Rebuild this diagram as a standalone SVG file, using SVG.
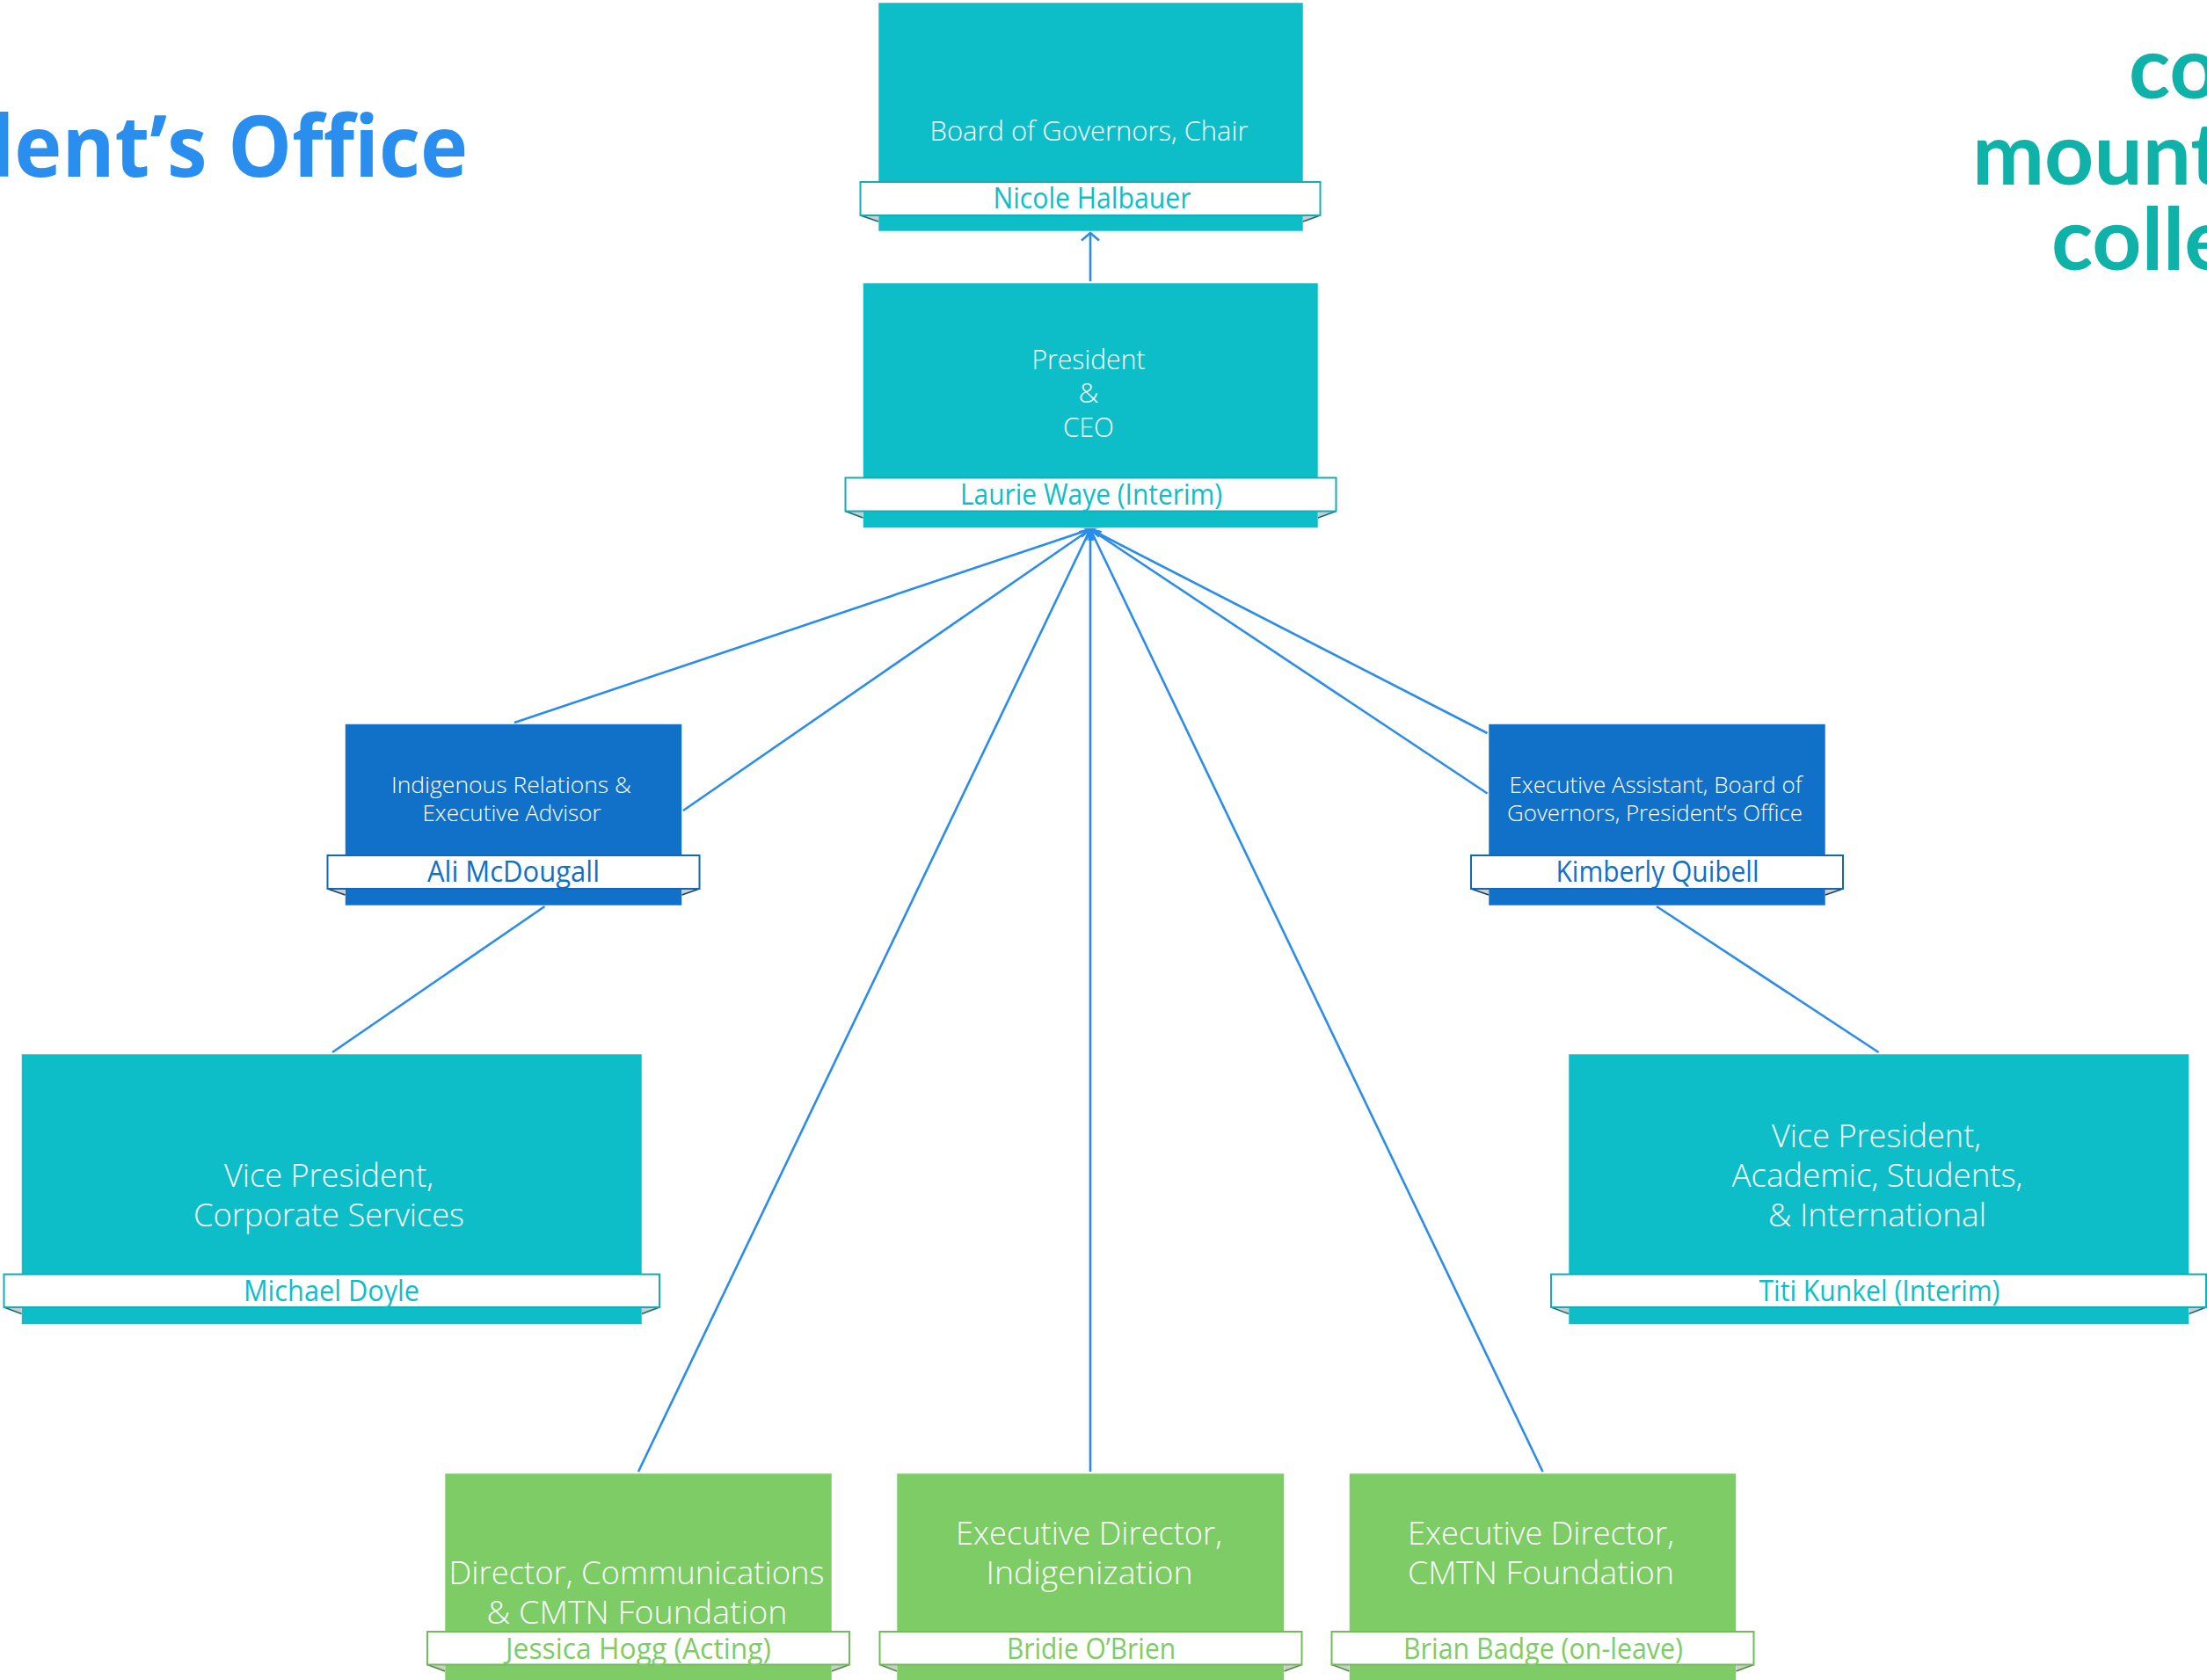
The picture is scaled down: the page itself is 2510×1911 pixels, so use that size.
<svg xmlns="http://www.w3.org/2000/svg" width="2510" height="1911" viewBox="0 0 2510 1911">
<style>
text{font-family:"Open Sans","Noto Sans","Liberation Sans",sans-serif;text-anchor:middle;font-weight:300}
.box{stroke:#fff;stroke-opacity:.55;stroke-width:1}
.rib{fill:#fff;stroke-width:2}
.fg{fill:#ccc;stroke:none}
.fl{fill:none;stroke-width:1.5}
.t{fill:#fff;font-size:32px}
.ts{fill:#fff;font-size:25.6px}
.tl{fill:#fff;font-size:36px}
.n{font-size:32px;font-weight:400}
.teal .box{fill:#0DBEC9}.teal .rib{stroke:#13AEB8}.teal .n{fill:#0DBEC9}.teal .fl{stroke:#0A6F76}
.blue .box{fill:#1170C8}.blue .rib{stroke:#1368B6}.blue .n{fill:#1170C8}.blue .fl{stroke:#0B3F70}
.green .box{fill:#7DCC66}.green .rib{stroke:#72BC5C}.green .n{fill:#7DCC66}.green .fl{stroke:#4C8A3A}
.conn{fill:none;stroke:#2A8CEB;stroke-width:2.6}
.title{fill:#2A8EEE;font-size:96px;font-weight:700;text-anchor:start}
.logo{fill:#0FB2A8;font-family:Lato,"Open Sans",sans-serif;font-size:98px;font-weight:700;text-anchor:start}
</style>
<defs>
<marker id="open" markerUnits="userSpaceOnUse" markerWidth="26" markerHeight="26" refX="13" refY="13" orient="auto">
<path d="M4.500,3 L13,13 L4.500,23" fill="none" stroke="#2A8CEB" stroke-width="2.6"/>
</marker>
</defs>
<g id="connectors" class="conn">
<path d="M1240,320 L1240,265" marker-end="url(#open)"/>
<path d="M585,822 L1240,602" marker-end="url(#open)"/>
<path d="M777,922 L1240,602" marker-end="url(#open)"/>
<path d="M726,1674 L1240,602" marker-end="url(#open)"/>
<path d="M1240,1674 L1240,602" marker-end="url(#open)"/>
<path d="M1754.500,1674 L1240,602" marker-end="url(#open)"/>
<path d="M1691.500,834 L1240,602" marker-end="url(#open)"/>
<path d="M1691.500,902.500 L1240,602" marker-end="url(#open)"/>
<path d="M619.500,1031 L378,1197"/>
<path d="M1884,1031 L2136.500,1197"/>
</g>
<g id="title"><text class="title" x="-268" y="201" textLength="800" lengthAdjust="spacingAndGlyphs">President’s Office</text></g>
<g id="logo">
<text class="logo" x="2421" y="112">coast</text>
<text class="logo" x="2243" y="210">mountain</text>
<text class="logo" x="2333" y="307">college</text>
</g>
<g id="board" class="teal">
<rect class="box" x="999" y="3" width="483" height="260"/>
<path class="fg" d="M978.500,245 L999,252 L999,245Z M1501.500,245 L1482,252 L1482,245Z"/>
<path class="fl" d="M978.500,245 L999,252 M1501.500,245 L1482,252"/>
<rect class="rib" x="978.500" y="207" width="523" height="38"/>
<text class="t" x="1238.500" y="159.500" textLength="362" lengthAdjust="spacingAndGlyphs">Board of Governors, Chair</text>
<text class="n" x="1242" y="237" textLength="225" lengthAdjust="spacingAndGlyphs">Nicole Halbauer</text>
</g>
<g id="president" class="teal">
<rect class="box" x="981.500" y="322" width="517.500" height="278.500"/>
<path class="fg" d="M961.500,581.500 L981.500,589 L981.500,581.500Z M1519.500,581.500 L1499,589 L1499,581.500Z"/>
<path class="fl" d="M961.500,581.500 L981.500,589 M1519.500,581.500 L1499,589"/>
<rect class="rib" x="961.500" y="543.500" width="558" height="38"/>
<text class="t" x="1238" y="420" textLength="129" lengthAdjust="spacingAndGlyphs">President</text>
<text class="t" x="1238" y="458" textLength="23" lengthAdjust="spacingAndGlyphs">&amp;</text>
<text class="t" x="1238" y="497" textLength="58" lengthAdjust="spacingAndGlyphs">CEO</text>
<text class="n" x="1241" y="574" textLength="298" lengthAdjust="spacingAndGlyphs">Laurie Waye (Interim)</text>
</g>
<g id="indigenous" class="blue">
<rect class="box" x="392.500" y="823.500" width="383" height="206.500"/>
<path class="fg" d="M372.500,1011 L392.500,1018 L392.500,1011Z M795.500,1011 L775.500,1018 L775.500,1011Z"/>
<path class="fl" d="M372.500,1011 L392.500,1018 M795.500,1011 L775.500,1018"/>
<rect class="rib" x="372.500" y="973" width="423" height="38"/>
<text class="ts" x="581.500" y="901.500" textLength="273" lengthAdjust="spacingAndGlyphs">Indigenous Relations &amp;</text>
<text class="ts" x="582" y="934" textLength="203" lengthAdjust="spacingAndGlyphs">Executive Advisor</text>
<text class="n" x="584" y="1003" textLength="196" lengthAdjust="spacingAndGlyphs">Ali McDougall</text>
</g>
<g id="exec-assistant" class="blue">
<rect class="box" x="1693" y="823.500" width="383" height="206.500"/>
<path class="fg" d="M1673,1011 L1693,1018 L1693,1011Z M2096,1011 L2076,1018 L2076,1011Z"/>
<path class="fl" d="M1673,1011 L1693,1018 M2096,1011 L2076,1018"/>
<rect class="rib" x="1673" y="973" width="423" height="38"/>
<text class="ts" x="1883" y="901.500" textLength="333" lengthAdjust="spacingAndGlyphs">Executive Assistant, Board of</text>
<text class="ts" x="1882" y="934" textLength="336" lengthAdjust="spacingAndGlyphs">Governors, President’s Office</text>
<text class="n" x="1885" y="1003" textLength="231" lengthAdjust="spacingAndGlyphs">Kimberly Quibell</text>
</g>
<g id="vp-corporate" class="teal">
<rect class="box" x="24.500" y="1199" width="705.500" height="307.500"/>
<path class="fg" d="M4.500,1487 L24.500,1494.500 L24.500,1487Z M750,1487 L730,1494.500 L730,1487Z"/>
<path class="fl" d="M4.500,1487 L24.500,1494.500 M750,1487 L730,1494.500"/>
<rect class="rib" x="4.500" y="1449.500" width="745.500" height="37.500"/>
<text class="tl" x="374" y="1349.500" textLength="238" lengthAdjust="spacingAndGlyphs">Vice President,</text>
<text class="tl" x="374" y="1394.500" textLength="308" lengthAdjust="spacingAndGlyphs">Corporate Services</text>
<text class="n" x="377" y="1480" textLength="200" lengthAdjust="spacingAndGlyphs">Michael Doyle</text>
</g>
<g id="vp-academic" class="teal">
<rect class="box" x="1784" y="1199" width="705.500" height="307.500"/>
<path class="fg" d="M1764,1487 L1784,1494.500 L1784,1487Z M2509,1487 L2489.500,1494.500 L2489.500,1487Z"/>
<path class="fl" d="M1764,1487 L1784,1494.500 M2509,1487 L2489.500,1494.500"/>
<rect class="rib" x="1764" y="1449.500" width="745" height="37.500"/>
<text class="tl" x="2134" y="1304.500" textLength="238" lengthAdjust="spacingAndGlyphs">Vice President,</text>
<text class="tl" x="2135" y="1349.500" textLength="331" lengthAdjust="spacingAndGlyphs">Academic, Students,</text>
<text class="tl" x="2135" y="1394.500" textLength="248" lengthAdjust="spacingAndGlyphs">&amp; International</text>
<text class="n" x="2137.500" y="1480" textLength="274" lengthAdjust="spacingAndGlyphs">Titi Kunkel (Interim)</text>
</g>
<g id="dir-comm" class="green">
<rect class="box" x="506" y="1676" width="440" height="240"/>
<path class="fg" d="M486,1893.500 L506,1901 L506,1893.500Z M966,1893.500 L946,1901 L946,1893.500Z"/>
<path class="fl" d="M486,1893.500 L506,1901 M966,1893.500 L946,1901"/>
<rect class="rib" x="486" y="1856" width="480" height="37.500"/>
<text class="tl" x="724" y="1801.500" textLength="427" lengthAdjust="spacingAndGlyphs">Director, Communications</text>
<text class="tl" x="724.500" y="1846.500" textLength="342" lengthAdjust="spacingAndGlyphs">&amp; CMTN Foundation</text>
<text class="n" x="726" y="1886.500" textLength="302" lengthAdjust="spacingAndGlyphs">Jessica Hogg (Acting)</text>
</g>
<g id="ed-indigenization" class="green">
<rect class="box" x="1020" y="1676" width="440.500" height="240"/>
<path class="fg" d="M1000.500,1893.500 L1020,1901 L1020,1893.500Z M1480.500,1893.500 L1460.500,1901 L1460.500,1893.500Z"/>
<path class="fl" d="M1000.500,1893.500 L1020,1901 M1480.500,1893.500 L1460.500,1901"/>
<rect class="rib" x="1000.500" y="1856" width="480" height="37.500"/>
<text class="tl" x="1238.500" y="1756.500" textLength="303" lengthAdjust="spacingAndGlyphs">Executive Director,</text>
<text class="tl" x="1239" y="1801.500" textLength="235" lengthAdjust="spacingAndGlyphs">Indigenization</text>
<text class="n" x="1241" y="1886.500" textLength="192" lengthAdjust="spacingAndGlyphs">Bridie O’Brien</text>
</g>
<g id="ed-foundation" class="green">
<rect class="box" x="1534.500" y="1676" width="440" height="240"/>
<path class="fg" d="M1514.500,1893.500 L1534.500,1901 L1534.500,1893.500Z M1994.500,1893.500 L1974.500,1901 L1974.500,1893.500Z"/>
<path class="fl" d="M1514.500,1893.500 L1534.500,1901 M1994.500,1893.500 L1974.500,1901"/>
<rect class="rib" x="1514.500" y="1856" width="480" height="37.500"/>
<text class="tl" x="1752.500" y="1756.500" textLength="303" lengthAdjust="spacingAndGlyphs">Executive Director,</text>
<text class="tl" x="1752.500" y="1801.500" textLength="303" lengthAdjust="spacingAndGlyphs">CMTN Foundation</text>
<text class="n" x="1755" y="1886.500" textLength="318" lengthAdjust="spacingAndGlyphs">Brian Badge (on-leave)</text>
</g>
</svg>
